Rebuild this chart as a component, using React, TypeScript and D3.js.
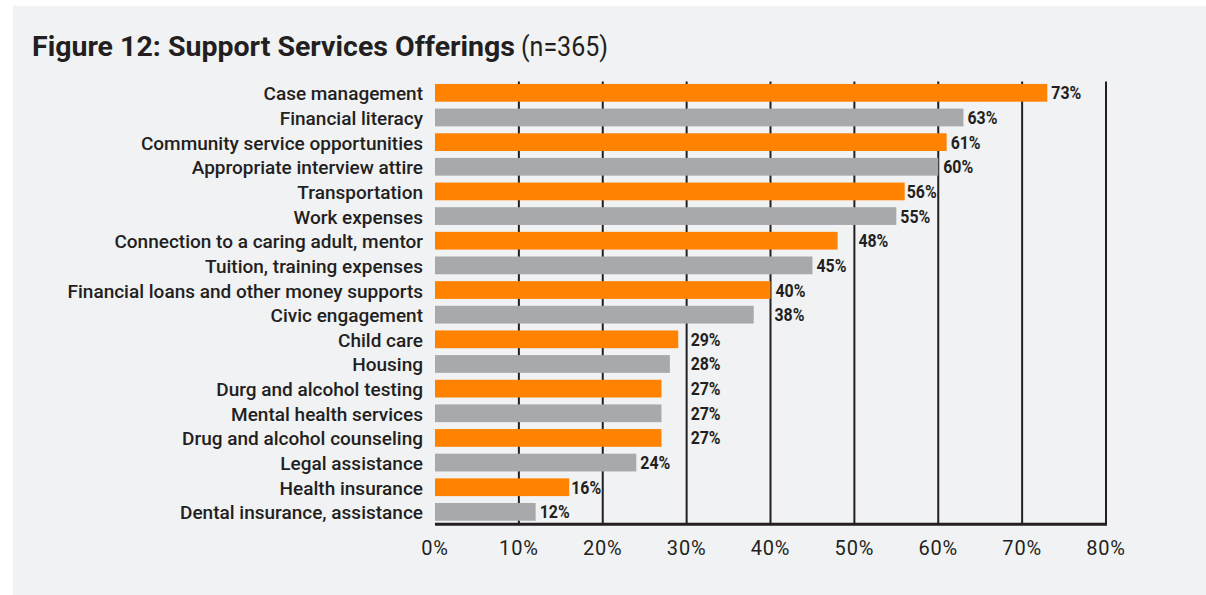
import React from "react";
import * as d3 from "d3";

const categories = [
  "Case management",
  "Financial literacy",
  "Community service opportunities",
  "Appropriate interview attire",
  "Transportation",
  "Work expenses",
  "Connection to a caring adult, mentor",
  "Tuition, training expenses",
  "Financial loans and other money supports",
  "Civic engagement",
  "Child care",
  "Housing",
  "Durg and alcohol testing",
  "Mental health services",
  "Drug and alcohol counseling",
  "Legal assistance",
  "Health insurance",
  "Dental insurance, assistance",
];
const values = [73, 63, 61, 60, 56, 55, 48, 45, 40, 38, 29, 28, 27, 27, 27, 24, 16, 12];
const ticks = [0, 10, 20, 30, 40, 50, 60, 70, 80];
const colors = ["#FF8300", "#A8A9AC"];

const W = 1206;
const H = 595;

export default function App() {
  const x = d3.scaleLinear().domain([0, 80]).range([435, 1106]);
  const y = d3
    .scaleBand<string>()
    .domain(categories)
    .range([80.5, 524.2])
    .paddingInner(0.28)
    .paddingOuter(0.14);
  const bw = y.bandwidth();
  const labelW = 30;
  const gridTicks = ticks.filter((t) => t > 0);

  const labelX = (v: number) => {
    const end = x(v);
    let lx = end + 4;
    const next = gridTicks.find((t) => x(t) >= end - 0.5);
    if (next !== undefined) {
      const g = x(next);
      if (Math.abs(g - end) < 1) return g + 5;
      if (lx + labelW > g - 1) {
        const squeezed = g - labelW - 1.5;
        if (squeezed >= end) lx = squeezed;
        else lx = g + 4;
      }
    }
    return lx;
  };

  return (
    <svg
      width={W}
      height={H}
      style={{ position: "absolute", left: 0, top: 0, display: "block" }}
    >
      <rect x={0} y={0} width={W} height={H} fill="#ffffff" />
      <rect x={13} y={6} width={W - 13} height={H - 6} fill="#F1F2F4" />
      <text x={32} y={56} fill="#231F20">
        <tspan
          fontFamily="Roboto, sans-serif"
          fontWeight={700}
          fontSize={27}
          textLength={483}
          lengthAdjust="spacingAndGlyphs"
        >
          Figure 12: Support Services Offerings
        </tspan>
        <tspan
          x={521}
          fontFamily="Roboto, sans-serif"
          fontSize={28}
          textLength={87}
          lengthAdjust="spacingAndGlyphs"
        >
          (n=365)
        </tspan>
      </text>

      {gridTicks.map((t) => (
        <line
          key={"g" + t}
          x1={x(t)}
          x2={x(t)}
          y1={81.5}
          y2={524}
          stroke="#231F20"
          strokeWidth={2}
        />
      ))}

      {categories.map((c, i) => (
        <rect
          key={"b" + c}
          x={x(0)}
          y={y(c)!}
          width={x(values[i]) - x(0)}
          height={bw}
          fill={colors[i % 2]}
        />
      ))}

      <line
        x1={x(0)}
        x2={x(80) + 1}
        y1={524.3}
        y2={524.3}
        stroke="#231F20"
        strokeWidth={3}
      />

      {categories.map((c, i) => (
        <text
          key={"c" + c}
          x={423}
          y={y(c)! + bw / 2 + 7.5}
          textAnchor="end"
          fontFamily="Roboto, sans-serif"
          fontWeight={500}
          fontSize={19}
          fill="#231F20"
        >
          {c}
        </text>
      ))}

      {categories.map((c, i) => (
        <text
          key={"v" + c}
          x={labelX(values[i])}
          y={y(c)! + bw / 2 + 6.5}
          fontFamily="Roboto, sans-serif"
          fontWeight={700}
          fontSize={18}
          textLength={labelW}
          lengthAdjust="spacingAndGlyphs"
          fill="#231F20"
        >
          {values[i] + "%"}
        </text>
      ))}

      {ticks.map((t) => (
        <text
          key={"t" + t}
          x={x(t)}
          y={555}
          textAnchor="middle"
          fontFamily="Roboto, sans-serif"
          fontSize={20}
          letterSpacing={0.8}
          fill="#231F20"
        >
          {t + "%"}
        </text>
      ))}
    </svg>
  );
}
